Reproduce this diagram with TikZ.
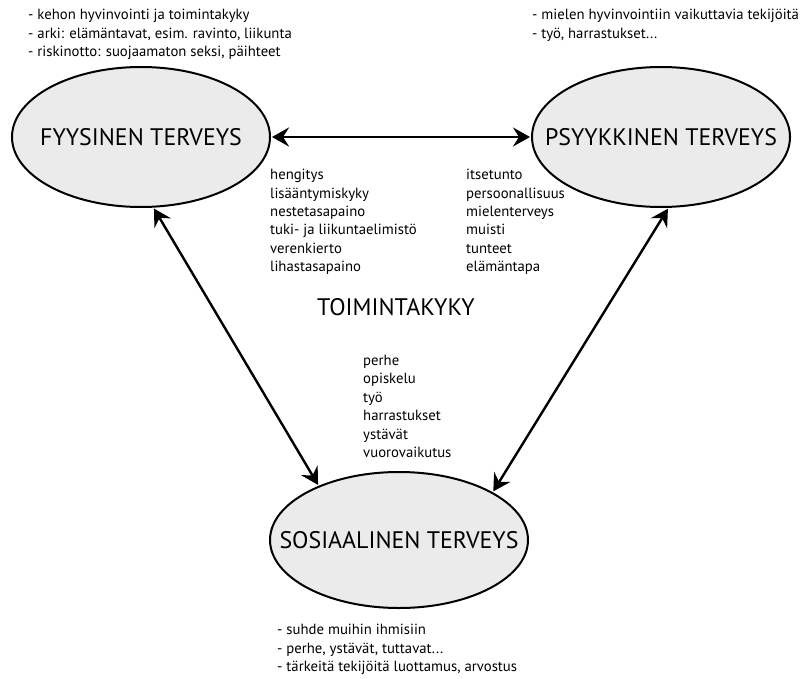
\documentclass[tikz,border=0pt]{standalone}
\usepackage{fontspec}
\setmainfont{PT Sans}
\usetikzlibrary{arrows.meta,shapes.geometric}
\begin{document}
\begin{tikzpicture}[x=1bp,y=-1bp,
  health/.style={ellipse,draw=black,line width=2bp,fill=black!8,minimum width=258bp,minimum height=140bp,inner xsep=-60bp,inner ysep=-30bp,font=\fontsize{24}{28}\selectfont},
  small/.style={inner sep=0pt,anchor=north west,align=left,font=\fontsize{14.8}{18.5}\selectfont},
  big/.style={inner sep=0pt,font=\fontsize{24}{28}\selectfont},
  link/.style={line width=2.4bp,{Stealth[length=17bp,width=19bp,inset=6bp]}-{Stealth[length=17bp,width=19bp,inset=6bp]},shorten <=1bp,shorten >=1bp}]
\useasboundingbox (0,0) rectangle (803,679);
\node[health] (fyys) at (141,137) {FYYSINEN TERVEYS};
\node[health] (psyk) at (661,137) {PSYYKKINEN TERVEYS};
\node[health,minimum height=136bp] (sos) at (399,540) {SOSIAALINEN TERVEYS};
\draw[link] (fyys.east) -- (psyk.west);
\draw[link] (fyys.-80.4) -- (sos.146.8);
\draw[link] (psyk.-84.4) -- (sos.27.5);
\node[small] (tl) at (28,9) {- kehon hyvinvointi ja toimintakyky\\- arki: elämäntavat, esim. ravinto, liikunta\\- riskinotto: suojaamaton seksi, päihteet};
\node[small] (tr) at (532,9) {- mielen hyvinvointiin vaikuttavia tekijöitä\\- työ, harrastukset...};
\node[small] (cl) at (270,169) {hengitys\\lisääntymiskyky\\nestetasapaino\\tuki- ja liikuntaelimistö\\verenkierto\\lihastasapaino};
\node[small] (cr) at (466,169) {itsetunto\\persoonallisuus\\mielenterveys\\muisti\\tunteet\\elämäntapa};
\node[big] (toim) at (396,307) {TOIMINTAKYKY};
\node[small] (cm) at (363,355) {perhe\\opiskelu\\työ\\harrastukset\\ystävät\\vuorovaikutus};
\node[small] (bl) at (277,624) {- suhde muihin ihmisiin\\- perhe, ystävät, tuttavat...\\- tärkeitä tekijöitä luottamus, arvostus};
\end{tikzpicture}
\end{document}
